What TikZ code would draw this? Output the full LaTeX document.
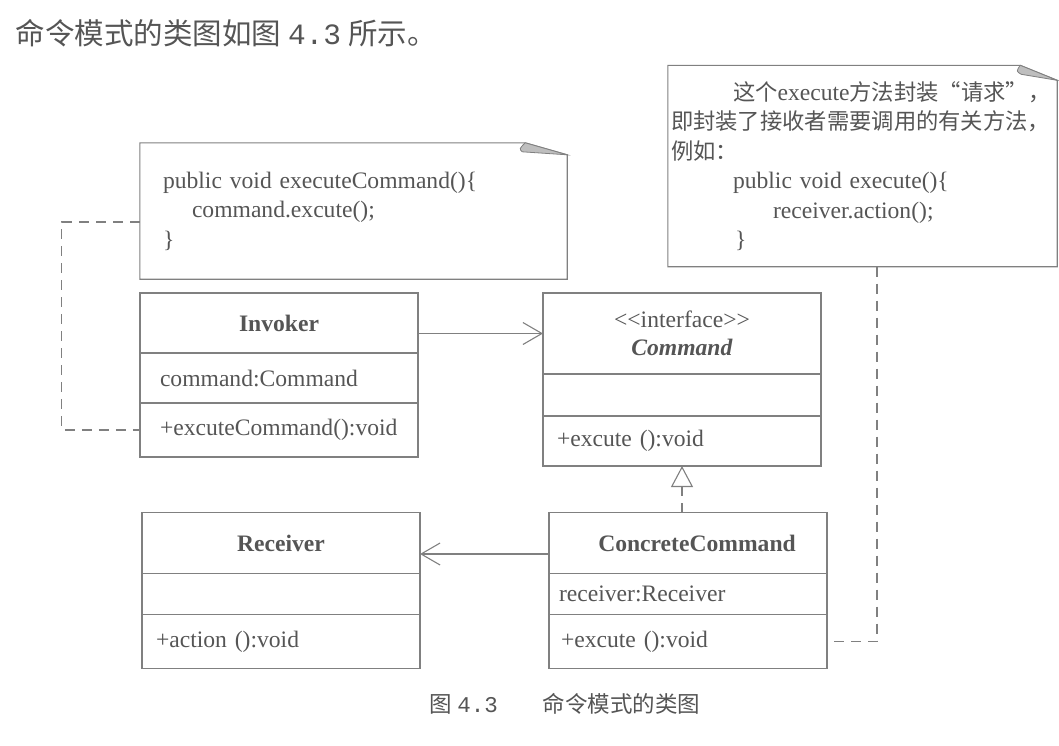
\documentclass[tikz,border=0pt]{standalone}
\usepackage{fontspec}
\setmainfont{Liberation Serif}
\setmonofont{Liberation Mono}
\newfontfamily\cjk{Noto Sans CJK SC}
\usetikzlibrary{arrows.meta}
\definecolor{ink}{HTML}{555555}
\definecolor{rule}{HTML}{808080}
\definecolor{ear}{HTML}{BEBEBE}
\newcommand\zh[1]{{\cjk\fontsize{22.3}{29.5}\selectfont #1}}

\begin{document}
\begin{tikzpicture}[x=1pt,y=-1pt,
				every node/.style={text=ink,font=\fontsize{23.6}{29.5}\selectfont},
				part/.style={draw=rule,line width=1.1pt,minimum width=278pt,inner sep=0pt,outer sep=0pt},
				row/.style={part,text width=250pt,inner xsep=14pt,align=left},
				note/.style={inner ysep=0pt,align=left},
				noteline/.style={draw=rule,line width=1.1pt},
				flap/.style={fill=ear,draw=rule,line width=0.8pt},
				dashline/.style={draw=rule,line width=1.1pt,dash pattern=on 10pt off 7pt},
				assoc/.style={draw=rule,line width=1.1pt,-{Straight Barb[length=19pt,width=22pt]}},
				realize/.style={dashline,-{Triangle[open,length=21pt,width=22pt,fill=white]}}]
			\useasboundingbox (0,0) rectangle (1059,745);
			\node [anchor=west,text=ink,font=\cjk\fontsize{29.5}{29.5}\selectfont] (title) at (12,33)
				{命令模式的类图如图{\ttfamily\hspace{7pt}4.3\hspace{7pt}}所示。};
			% notes
			\node [note,minimum width=427pt,minimum height=136pt,text width=381pt,inner xsep=23pt] (nt1) at (353.5,211)
				{public void executeCommand()\{\\\hspace*{29pt}command.excute();\\\}};
			\draw [noteline] (nt1.north west) -- ([xshift=-42pt]nt1.north east) -- ([yshift=-12pt]nt1.north east)
				-- (nt1.south east) -- (nt1.south west) -- cycle;
			\filldraw [flap] ([xshift=-42pt]nt1.north east) .. controls +(-6,6) .. ([xshift=-45pt,yshift=-9pt]nt1.north east)
				-- ([yshift=-12pt]nt1.north east) -- cycle;
			\node [note,minimum width=389pt,minimum height=201pt,text width=383pt,inner xsep=3pt] (nt2) at (862.5,166)
				{\hspace*{62pt}\zh{这个}execute\zh{方法封装“请求”，}\\
				\zh{即封装了接收者需要调用的有关方法，}\\
				\zh{例如：}\\
				\hspace*{62pt}public void execute()\{\\
				\hspace*{102pt}receiver.action();\\
				\hspace*{64pt}\}};
			\draw [noteline] (nt2.north west) -- ([xshift=-37pt]nt2.north east) -- ([yshift=-15pt]nt2.north east)
				-- (nt2.south east) -- (nt2.south west) -- cycle;
			\filldraw [flap] ([xshift=-37pt]nt2.north east) .. controls +(-4,6) .. ([xshift=-36pt,yshift=-9pt]nt2.north east)
				-- ([yshift=-15pt]nt2.north east) -- cycle;
			% classes
			\node [part,minimum height=60pt] (inv) at (279,323) {\textbf{Invoker}};
			\node [row,minimum height=50pt,text width=238pt,inner xsep=20pt] (invattr) at (279,378) {command:Command};
			\node [row,minimum height=54pt,text width=238pt,inner xsep=20pt] (invop) at (279,430) {+excuteCommand():void};
			\node [part,minimum height=81pt,align=center] (cmd) at (682,333.5)
				{<\kern0pt<interface>\kern0pt>\\[-1pt]\textbf{\textit{Command}}};
			\node [row,minimum height=42pt] (cmdattr) at (682,395) {};
			\node [row,minimum height=50pt] (cmdop) at (682,441) {+excute ():void};
			\node [part,minimum height=61pt] (rcv) at (281,543) {\textbf{Receiver}};
			\node [row,minimum height=41pt] (rcvattr) at (281,594) {};
			\node [row,minimum height=54pt] (rcvop) at (281,641.5) {+action ():void};
			\node [part,minimum height=61pt] (cc) at (688,543) {\hspace*{18pt}\textbf{ConcreteCommand}};
			\node [row,minimum height=41pt,inner xsep=10pt,text width=258pt] (ccattr) at (688,594) {receiver:Receiver};
			\node [row,minimum height=54pt,inner xsep=12pt,text width=254pt] (ccop) at (688,641.5) {+excute ():void};
			% relations
			\draw [assoc] (inv.east |- cmd.west) -- (cmd.west);
			\draw [assoc] ([yshift=-11pt]cc.west) -- ([yshift=-11pt]rcv.east);
			\draw [realize] (cc.north -| cmdop.south) -- (cmdop.south);
			\draw [dashline] ([yshift=-11pt]nt1.west) -- ++(-78,0) |- (invop.west);
			\draw [dashline] ([xshift=14.5pt]nt2.south) |- (ccop.east);
			\node [font=\cjk\fontsize{22.5}{22.5}\selectfont] (cap) at (565,704) {图\ {\ttfamily 4.3}\qquad 命令模式的类图};
		\end{tikzpicture}
\end{document}
